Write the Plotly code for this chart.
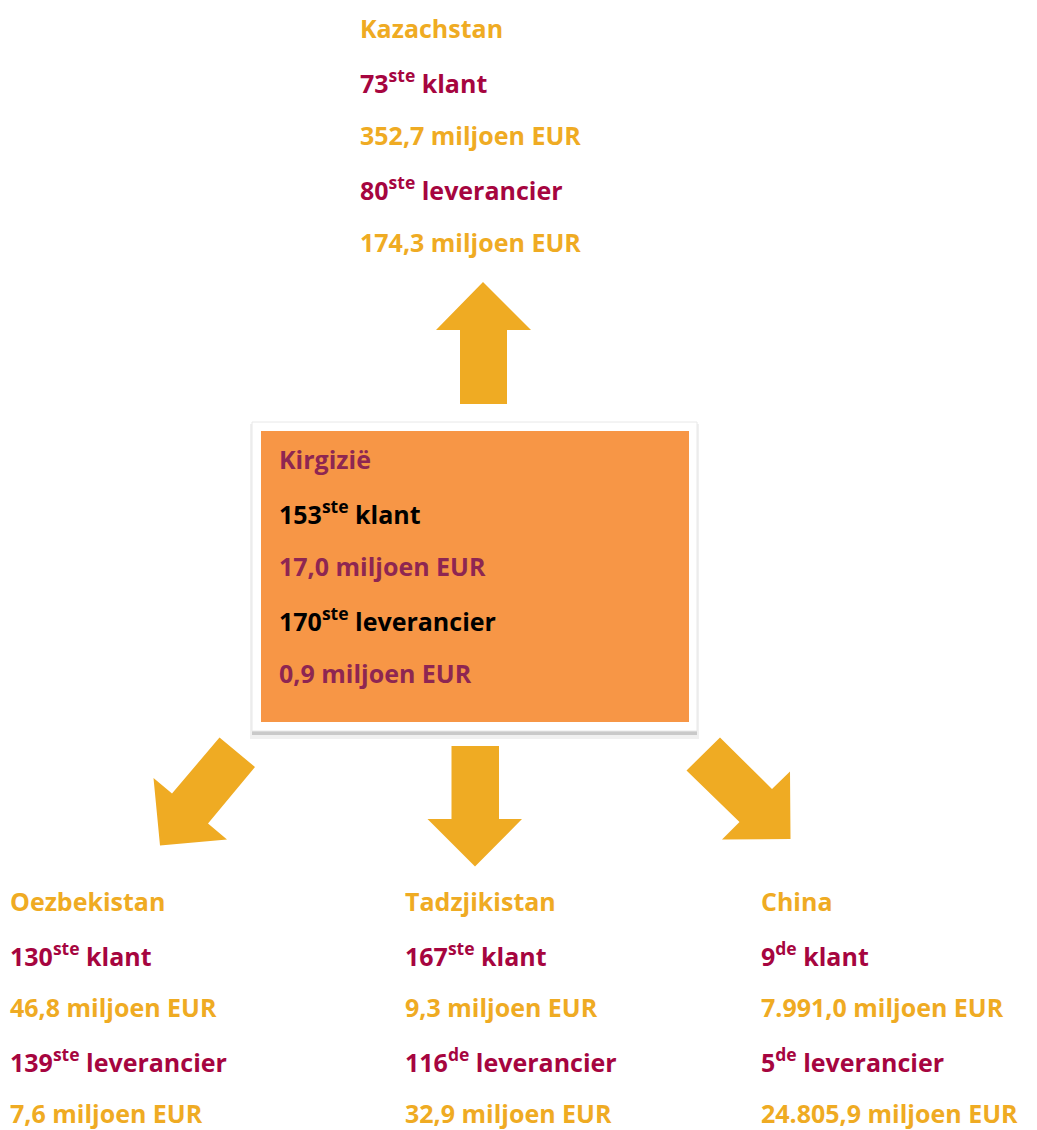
import plotly.graph_objects as go

W, H = 1037, 1130
YELLOW = "#EFAB23"
RED = "#A6053F"
BOX = "#F79646"
BOXTXT = "#8E2652"
BLACK = "#000000"

# Data
countries = ["Kazachstan", "Oezbekistan", "Tadzjikistan", "China"]
klant_rank = ["73", "130", "167", "9"]
klant_suffix = ["ste", "ste", "ste", "de"]
klant_value = ["352,7", "46,8", "9,3", "7.991,0"]
lev_rank = ["80", "139", "116", "5"]
lev_suffix = ["ste", "ste", "de", "de"]
lev_value = ["174,3", "7,6", "32,9", "24.805,9"]

center_country = "Kirgizië"
center_klant_rank, center_klant_suffix, center_klant_value = "153", "ste", "17,0"
center_lev_rank, center_lev_suffix, center_lev_value = "170", "ste", "0,9"

# Layout (positions of each block: left x, first-line y)
block_pos = [(359, 28), (9, 901), (404, 901), (760, 901)]
center_pos = (278, 459)
LINE = 53.6
FONT = "Open Sans"
FS = 25

fig = go.Figure()
fig.add_trace(go.Scatter(x=[0, W], y=[0, H], mode="markers",
                         marker=dict(opacity=0), hoverinfo="skip", showlegend=False))

def add_block(x0, y0, lines, line_gap=LINE):
    for i, (txt, col) in enumerate(lines):
        fig.add_annotation(x=x0, y=y0 + i * line_gap, xref="x", yref="y",
                           text="<b>" + txt + "</b>", showarrow=False,
                           xanchor="left", yanchor="middle", borderpad=0,
                           font=dict(family=FONT, size=FS, color=col))

shapes = []
# white card with soft shadow
shapes.append(dict(type="rect", x0=250, y0=424, x1=699, y1=739, line=dict(width=0),
                   fillcolor="rgba(0,0,0,0.06)", layer="below"))
shapes.append(dict(type="rect", x0=252, y0=426, x1=697, y1=735, line=dict(width=0),
                   fillcolor="rgba(0,0,0,0.16)", layer="below"))
shapes.append(dict(type="rect", x0=252, y0=422, x1=697, y1=731,
                   line=dict(width=1, color="#E8E8E8"), fillcolor="white", layer="below"))
shapes.append(dict(type="rect", x0=261, y0=431, x1=689, y1=722, line=dict(width=0),
                   fillcolor=BOX, layer="below"))

def poly(pts):
    return "M " + " L ".join(f"{x},{y}" for x, y in pts) + " Z"

arrows = [
    # up
    [(483, 282), (531, 330), (507, 330), (507, 404), (460, 404), (460, 330), (436, 330)],
    # down center
    [(451.5, 746), (499, 746), (499, 819), (522, 819), (475, 866.5), (427.5, 819), (451.5, 819)],
    # down-left
    [(219.5, 737.5), (255, 767), (208, 823.5), (227, 839.5), (160, 845.5), (153.5, 778), (172, 793.5)],
    # down-right
    [(720, 737.5), (772, 789), (790, 771.5), (790.5, 839), (722, 839.5), (739.5, 822), (686.5, 770.5)],
]
for a in arrows:
    shapes.append(dict(type="path", path=poly(a), fillcolor=YELLOW, line=dict(width=0),
                       layer="below"))

for i, c in enumerate(countries):
    x0, y0 = block_pos[i]
    add_block(x0, y0, [
        (c, YELLOW),
        (f"{klant_rank[i]}<sup>{klant_suffix[i]}</sup> klant", RED),
        (f"{klant_value[i]} miljoen EUR", YELLOW),
        (f"{lev_rank[i]}<sup>{lev_suffix[i]}</sup> leverancier", RED),
        (f"{lev_value[i]} miljoen EUR", YELLOW),
    ], line_gap=53.6 if i == 0 else 53.0)

add_block(center_pos[0], center_pos[1], [
    (center_country, BOXTXT),
    (f"{center_klant_rank}<sup>{center_klant_suffix}</sup> klant", BLACK),
    (f"{center_klant_value} miljoen EUR", BOXTXT),
    (f"{center_lev_rank}<sup>{center_lev_suffix}</sup> leverancier", BLACK),
    (f"{center_lev_value} miljoen EUR", BOXTXT),
])

fig.update_layout(
    width=W, height=H, margin=dict(l=0, r=0, t=0, b=0),
    paper_bgcolor="white", plot_bgcolor="white", shapes=shapes,
    xaxis=dict(range=[0, W], visible=False, fixedrange=True),
    yaxis=dict(range=[H, 0], visible=False, fixedrange=True),
    showlegend=False,
)
fig.write_html("out.html", config={"displayModeBar": False},
               post_script="document.body.style.margin='0';document.body.style.padding='0';")
